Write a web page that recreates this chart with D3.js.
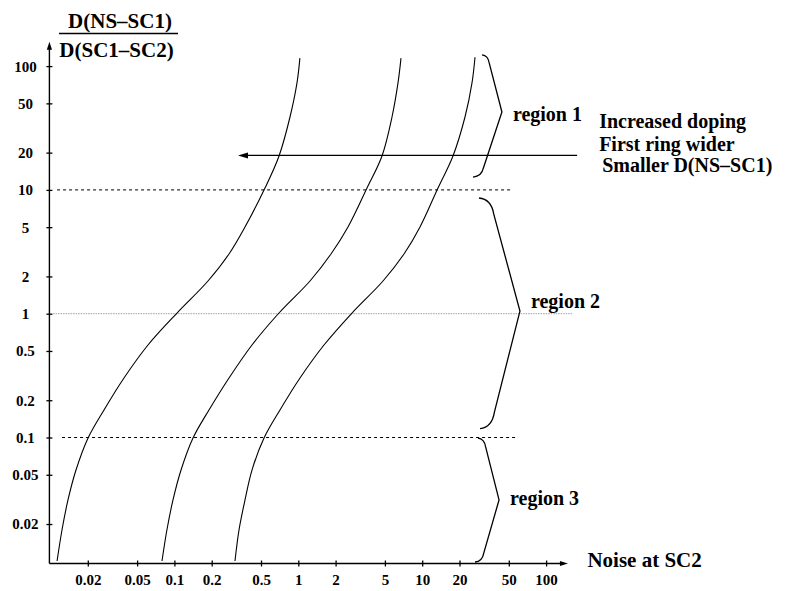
<!DOCTYPE html>
<html>
<head>
<meta charset="utf-8">
<script src="https://cdnjs.cloudflare.com/ajax/libs/d3/7.8.5/d3.min.js"></script>
<style>
body { margin: 0; background: #fff; }
svg { display: block; }
text { font-family: "Liberation Serif", "Times New Roman", serif; font-weight: bold; fill: #000; }
</style>
</head>
<body>
<div id="chart"></div>
<script>
// tick values on both log axes
var xTicks = [0.02, 0.05, 0.1, 0.2, 0.5, 1, 2, 5, 10, 20, 50, 100];
var yTicks = [0.02, 0.05, 0.1, 0.2, 0.5, 1, 2, 5, 10, 20, 50, 100];

// three curves, noise at SC2 vs D(NS-SC1)/D(SC1-SC2)
var noise1 = [0.0113, 0.01238, 0.01384, 0.01606, 0.0201, 0.02703, 0.03918, 0.06122, 0.105, 0.1867, 0.2759, 0.3713, 0.5385, 0.699, 0.857, 0.976, 1.03];
var ratio1 = [0.01005, 0.0179, 0.0313, 0.0546, 0.0991, 0.1668, 0.3024, 0.5587, 1.013, 1.837, 3.035, 5.014, 10.36, 18.8, 38.8, 73.1, 116];
var noise2 = [0.07941, 0.08699, 0.09743, 0.1131, 0.1413, 0.1902, 0.2759, 0.4229, 0.6986, 1.243, 1.836, 2.518, 3.585, 4.737, 5.705, 6.378, 6.744];
var ratio2 = [0.01005, 0.0179, 0.0313, 0.0546, 0.0991, 0.1668, 0.3024, 0.5587, 1.013, 1.837, 3.035, 5.014, 10.36, 18.8, 38.8, 73.1, 116];
var noise3 = [0.3083, 0.3322, 0.3713, 0.4229, 0.5288, 0.7115, 1.032, 1.612, 2.713, 4.827, 7.132, 9.600, 13.41, 17.72, 22.15, 25.23, 26.68];
var ratio3 = [0.01005, 0.0179, 0.0313, 0.0546, 0.0991, 0.1668, 0.3024, 0.5587, 1.013, 1.837, 3.035, 5.014, 10.36, 18.8, 38.8, 73.1, 118];

// horizontal reference levels
var refLevels = [10, 1, 0.1];
var refFrom = [0.0113, 0.0105, 0.0124];
var refTo = [53, 162, 58];

// braces marking the three regions
var regionNames = ['region 1', 'region 2', 'region 3'];
var regionTop = [123, 8.6, 0.099];
var regionTip = [42.6, 1.05, 0.0313];
var regionBottom = [12.7, 0.118, 0.00987];
var regionTopNoise = [30.4, 28.7, 28.2];
var regionTipNoise = [44, 61.5, 41.7];
var regionBottomNoise = [25.7, 29.3, 26.7];

// annotation arrow
var arrowRatio = 19;
var arrowFrom = 178;
var arrowTo = 0.326;
var notes = ['Increased doping', 'First ring wider', 'Smaller D(NS\u2013SC1)'];

var width = 785;
var height = 591;

var x = d3.scaleLog()
    .domain([0.01, 1000])
    .range([50.5, 50.5 + 5 * 123.9]);

var y = d3.scaleLog()
    .domain([0.01, 1000])
    .range([561.3, 561.3 - 5 * 123.8]);

var xMin = 0.0098, xMax = 150;
var yMin = 0.0096, yMax = 157;

var svg = d3.select('#chart')
    .append('svg')
    .attr('width', width)
    .attr('height', height);

var x0 = x(xMin);
var y0 = y(yMin);

// reference lines
svg.selectAll('.ref')
    .data(refLevels)
    .enter()
    .append('line')
    .attr('class', 'ref')
    .attr('x1', function(d, i) { return x(refFrom[i]); })
    .attr('x2', function(d, i) { return x(refTo[i]); })
    .attr('y1', function(d) { return y(d); })
    .attr('y2', function(d) { return y(d); })
    .attr('stroke', function(d) { return d === 1 ? '#a0a0a0' : '#000'; })
    .attr('stroke-width', 1)
    .attr('stroke-dasharray', function(d) { return d === 1 ? '1.5,1' : '3,3'; });

// axes
var xAxis = d3.axisBottom(x)
    .tickValues(xTicks)
    .tickFormat(d3.format('~g'))
    .tickSize(6);

var gx = svg.append('g')
    .attr('class', 'x axis')
    .attr('transform', 'translate(0,' + y0 + ')')
    .call(xAxis);
gx.select('.domain').remove();
gx.selectAll('.tick line')
    .attr('y1', -3)
    .attr('y2', 3)
    .attr('stroke-width', 1.3);
gx.selectAll('.tick text')
    .attr('y', 22)
    .attr('dy', null)
    .attr('font-size', 15)
    .attr('font-family', '"Liberation Serif", serif')
    .attr('font-weight', 'bold');

var yAxis = d3.axisLeft(y)
    .tickValues(yTicks)
    .tickFormat(d3.format('~g'))
    .tickSize(6);

var gy = svg.append('g')
    .attr('class', 'y axis')
    .attr('transform', 'translate(' + x0 + ',0)')
    .call(yAxis);
gy.select('.domain').remove();
gy.selectAll('.tick line')
    .attr('x1', -3)
    .attr('x2', 3)
    .attr('stroke-width', 1.3);
gy.selectAll('.tick text')
    .attr('x', -24)
    .attr('dy', '0.33em')
    .attr('text-anchor', 'middle')
    .attr('font-size', 15)
    .attr('font-family', '"Liberation Serif", serif')
    .attr('font-weight', 'bold');

// axis lines with arrow heads
var xEnd = x(xMax);
var yEnd = y(yMax);
svg.append('path')
    .attr('d', 'M' + x0 + ',' + y0 + ' L' + (xEnd - 6) + ',' + y0)
    .attr('stroke', '#000')
    .attr('stroke-width', 1.4);
svg.append('path')
    .attr('d', 'M' + xEnd + ',' + y0 + ' L' + (xEnd - 8) + ',' + (y0 - 2.6) + ' L' + (xEnd - 8) + ',' + (y0 + 2.6) + 'Z')
    .attr('fill', '#000');
svg.append('path')
    .attr('d', 'M' + x0 + ',' + y0 + ' L' + x0 + ',' + (yEnd + 6))
    .attr('stroke', '#000')
    .attr('stroke-width', 1.4);
svg.append('path')
    .attr('d', 'M' + x0 + ',' + yEnd + ' L' + (x0 - 2.6) + ',' + (yEnd + 8) + ' L' + (x0 + 2.6) + ',' + (yEnd + 8) + 'Z')
    .attr('fill', '#000');

// curves
var series = [
    {noise: noise1, ratio: ratio1},
    {noise: noise2, ratio: ratio2},
    {noise: noise3, ratio: ratio3}
];

var line = d3.line()
    .x(function(d) { return x(d[0]); })
    .y(function(d) { return y(d[1]); })
    .curve(d3.curveCatmullRom.alpha(0.5));

svg.selectAll('.curve')
    .data(series)
    .enter()
    .append('path')
    .attr('class', 'curve')
    .attr('d', function(s) {
        return line(s.noise.map(function(n, i) { return [n, s.ratio[i]]; }));
    })
    .attr('fill', 'none')
    .attr('stroke', '#000')
    .attr('stroke-width', 1.1);

// braces
function brace(xt, yt, xm, ym, xb, yb) {
    var dxt = xm - xt, dyt = ym - yt;
    var dxb = xm - xb, dyb = yb - ym;
    return 'M' + xt + ',' + yt +
        ' Q' + (xt + 0.3 * dxt) + ',' + (yt + 0.01 * dyt) + ' ' + (xt + 0.36 * dxt) + ',' + (yt + 0.14 * dyt) +
        ' L' + xm + ',' + ym +
        ' L' + (xb + 0.36 * dxb) + ',' + (yb - 0.14 * dyb) +
        ' Q' + (xb + 0.3 * dxb) + ',' + (yb - 0.01 * dyb) + ' ' + xb + ',' + yb;
}

svg.selectAll('.brace')
    .data(regionNames)
    .enter()
    .append('path')
    .attr('class', 'brace')
    .attr('d', function(d, i) {
        return brace(x(regionTopNoise[i]), y(regionTop[i]),
            x(regionTipNoise[i]), y(regionTip[i]),
            x(regionBottomNoise[i]), y(regionBottom[i]));
    })
    .attr('fill', 'none')
    .attr('stroke', '#000')
    .attr('stroke-width', 1.3)
    .attr('stroke-linejoin', 'miter');

var labelDy = [9, -3, 5];
svg.selectAll('.region-label')
    .data(regionNames)
    .enter()
    .append('text')
    .attr('class', 'region-label')
    .attr('x', function(d, i) { return x(regionTipNoise[i]) + 11; })
    .attr('y', function(d, i) { return y(regionTip[i]) + labelDy[i]; })
    .attr('font-size', 20)
    .text(function(d) { return d; });

// annotation arrow and text
var ay = y(arrowRatio);
var ax1 = x(arrowFrom);
var ax2 = x(arrowTo);
svg.append('path')
    .attr('d', 'M' + ax1 + ',' + ay + ' L' + (ax2 + 6) + ',' + ay)
    .attr('stroke', '#000')
    .attr('stroke-width', 1.3);
svg.append('path')
    .attr('d', 'M' + ax2 + ',' + ay + ' L' + (ax2 + 10) + ',' + (ay - 3) + ' L' + (ax2 + 10) + ',' + (ay + 3) + 'Z')
    .attr('fill', '#000');

var noteDx = [22, 22, 25];
var noteDy = [-27, -4, 17];
svg.selectAll('.note')
    .data(notes)
    .enter()
    .append('text')
    .attr('class', 'note')
    .attr('x', function(d, i) { return ax1 + noteDx[i]; })
    .attr('y', function(d, i) { return ay + noteDy[i]; })
    .attr('font-size', 20)
    .text(function(d) { return d; });

// axis titles
svg.append('text')
    .attr('x', x0 + 538)
    .attr('y', y0 + 4)
    .attr('font-size', 21)
    .text('Noise at SC2');

var title = svg.append('g')
    .attr('transform', 'translate(118,0)');
title.append('text')
    .attr('x', 2)
    .attr('y', 28)
    .attr('text-anchor', 'middle')
    .attr('font-size', 21)
    .text('D(NS\u2013SC1)');
title.append('line')
    .attr('x1', -59)
    .attr('x2', 60)
    .attr('y1', 33.5)
    .attr('y2', 33.5)
    .attr('stroke', '#000')
    .attr('stroke-width', 1.3);
title.append('text')
    .attr('x', -1.5)
    .attr('y', 56.5)
    .attr('text-anchor', 'middle')
    .attr('font-size', 21)
    .text('D(SC1\u2013SC2)');
</script>
</body>
</html>
